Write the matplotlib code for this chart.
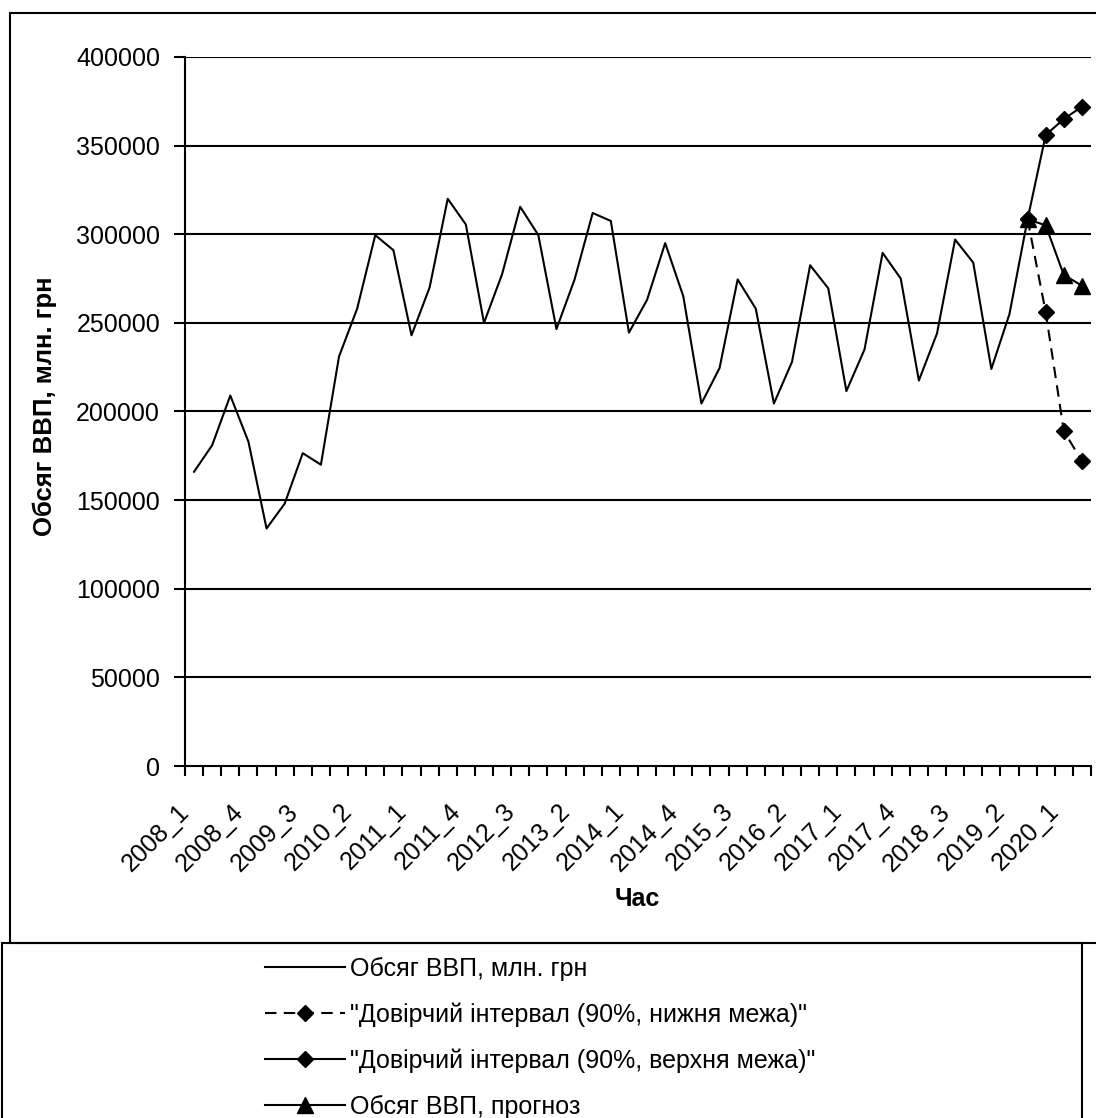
import matplotlib
matplotlib.use("Agg")
import matplotlib.pyplot as plt
from matplotlib.patches import Rectangle

plt.rcParams['font.family'] = ['Liberation Sans', 'DejaVu Sans']

# ---- data ----
categories = [f"{y}_{q}" for y in range(2008, 2021) for q in range(1, 5)][:50]

gdp = [166000, 181000, 209000, 183000, 134000, 148000, 176500, 170000,
       231000, 258000, 299500, 291000, 243000, 270000, 320000, 305500,
       250000, 277500, 315500, 299500, 246500, 274500, 312000, 307500,
       244500, 263000, 295000, 265000, 204500, 224500, 274500, 258000,
       204500, 228000, 282500, 269500, 211500, 235000, 289500, 275000,
       217500, 244000, 297000, 284000, 224000, 255000, 308500]

fc_categories = ["2019_3", "2019_4", "2020_1", "2020_2"]
ci_lower = [308500, 256000, 189000, 172000]
ci_upper = [308500, 356000, 365000, 372000]
forecast = [308500, 305000, 277000, 271000]

yticks = [0, 50000, 100000, 150000, 200000, 250000, 300000, 350000, 400000]

labels = ["Обсяг ВВП, млн. грн",
          '"Довірчий інтервал (90%, нижня межа)"',
          '"Довірчий інтервал (90%, верхня межа)"',
          "Обсяг ВВП, прогноз"]
ylabel = "Обсяг ВВП, млн. грн"
xlabel = "Час"

# ---- figure ----
W, H = 1096, 1118
fig = plt.figure(figsize=(W / 100, H / 100), dpi=100)
L, R, T, B = 185, 1091, 57, 766
ax = fig.add_axes([L / W, 1 - B / H, (R - L) / W, (B - T) / H])

FS = 18
pos = {c: i for i, c in enumerate(categories)}
x_main = [pos[c] for c in categories[:len(gdp)]]
x_fc = [pos[c] for c in fc_categories]

lw = 1.5
l1, = ax.plot(x_main, gdp, color='black', lw=lw, zorder=3)
l2, = ax.plot(x_fc, ci_lower, color='black', lw=lw, ls=(0, (5.5, 3.5)),
              marker='D', ms=8, zorder=4)
l3, = ax.plot(x_fc, ci_upper, color='black', lw=lw, marker='D', ms=8, zorder=4)
l4, = ax.plot(x_fc, forecast, color='black', lw=lw, marker='^', ms=11, zorder=5)

ax.set_xlim(-0.5, len(categories) - 0.5)
ax.set_ylim(0, 400000)
ax.set_yticks(yticks)
ax.set_yticklabels([str(v) for v in yticks], fontsize=FS)
for v in yticks[1:]:
    ax.axhline(v, color='black', lw=1.5, zorder=1)

# category boundary ticks
ax.set_xticks([i - 0.5 for i in range(len(categories) + 1)])
ax.set_xticklabels([])
ax.set_xticks(list(range(0, len(categories), 3)), minor=True)
ax.set_xticklabels(categories[::3], minor=True, rotation=45, ha='right',
                   va='top', fontsize=FS)
ax.tick_params(axis='x', which='major', length=7, width=1.5, direction='out')
ax.tick_params(axis='x', which='minor', length=0, pad=24)
ax.tick_params(axis='y', length=8, width=1.5, direction='out', pad=10)

for s in ['top', 'right']:
    ax.spines[s].set_visible(False)
for s in ['left', 'bottom']:
    ax.spines[s].set_linewidth(1.5)

fig.text(45 / W, 1 - 406 / H, ylabel, rotation=90, ha='center', va='center',
         fontsize=FS + 0.5, fontweight='bold')
fig.text(637 / W, 1 - 899 / H, xlabel, ha='center', va='center',
         fontsize=FS, fontweight='bold')

# outer chart frame and legend box
fig.patches.append(Rectangle((10 / W, 1 - 943 / H), 1.2, (943 - 13) / H,
                             transform=fig.transFigure, fill=False,
                             ec='black', lw=1.5))
fig.patches.append(Rectangle((2 / W, -0.05), (1082 - 2) / W, 0.05 + (1118 - 943) / H,
                             transform=fig.transFigure, fill=False,
                             ec='black', lw=1.5))

fig.legend([l1, l2, l3, l4], labels, loc='upper left',
           bbox_to_anchor=(265 / W, 1 - 957 / H), frameon=False,
           fontsize=FS, borderpad=0, handlelength=3.2, handletextpad=0.2,
           labelspacing=0.86, borderaxespad=0)

fig.savefig("out.png", dpi=100)
